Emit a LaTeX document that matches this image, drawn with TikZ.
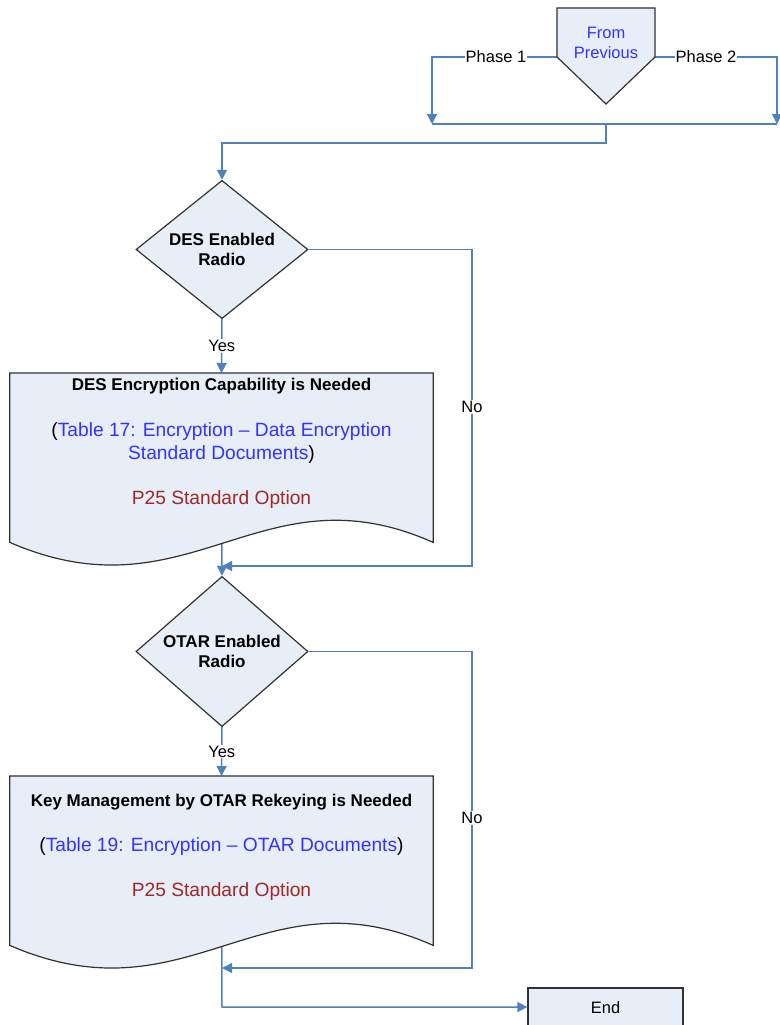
\documentclass[tikz,border=0pt]{standalone}
\usepackage{fontspec}
\setmainfont{Liberation Sans}
\usetikzlibrary{shapes.geometric,arrows.meta,calc}
\pgfdeclarelayer{background}
\pgfsetlayers{background,main}
\definecolor{shapefill}{RGB}{232,238,247}
\definecolor{shapeline}{RGB}{50,50,50}
\definecolor{conn}{RGB}{79,129,189}
\definecolor{linkblue}{RGB}{51,51,255}
\definecolor{optred}{RGB}{160,40,40}
\newcommand\docoutline[1]{%
  \draw[shapebox] (#1.north west) -- (#1.north east) -- (#1.south east)
    .. controls ($(#1.south east)+(-173,-77)$) and ($(#1.south west)+(180,78)$) .. (#1.south west) -- cycle;}
\tikzset{
  shapebox/.style={draw=shapeline,fill=shapefill,line width=1.2pt},
  conline/.style={draw=conn,line width=1.5pt},
  arr/.style={conline,-{Triangle[length=10pt,width=10pt]}},
  decision/.style={shape=diamond,shapebox,inner sep=0pt,minimum width=172pt,minimum height=133pt,align=center,
     font=\fontsize{17}{20}\selectfont\bfseries},
  lbl/.style={fill=white,inner sep=1pt,font=\fontsize{16.5}{19}\selectfont},
  doctitle/.style={font=\fontsize{17}{20}\selectfont\bfseries},
  doctext/.style={font=\fontsize{19.2}{23}\selectfont,align=center},
  docframe/.style={inner sep=0pt,minimum width=423pt,anchor=north},
}
\begin{document}
\begin{tikzpicture}[x=1pt,y=-1pt]
\useasboundingbox (0,0) rectangle (779,1025);
\clip (0,0) rectangle (779,1025);

% From previous (off-page connector)
\coordinate (fpL) at (557,57);
\coordinate (fpR) at (655,57);
\coordinate (fpTL) at (557,8);
\coordinate (fpTR) at (655,8);
\coordinate (fpB) at (606,104);
\draw[shapebox] (fpTL) -- (fpTR) -- (fpR) -- (fpB) -- (fpL) -- cycle;
\node[align=center,text=linkblue,font=\fontsize{16.5}{20}\selectfont] (fp) at (606,43) {From\\Previous};

\coordinate (p1) at (432,124);
\coordinate (p2) at (777,124);
\coordinate (jc) at (606,124);
\coordinate (k1) at (222,143);

% Decisions
\node[decision] (d1) at (222,249.5) {DES Enabled\\Radio};
\node[decision] (d2) at (222,651.5) {OTAR Enabled\\Radio};

% Documents
\node[docframe,minimum height=169pt] (doc1) at (221.5,373) {};
\node[docframe,minimum height=169pt] (doc2) at (221.5,776) {};

% End
\node[shapebox,minimum width=155pt,minimum height=40pt,inner sep=0pt,font=\fontsize{16.5}{19}\selectfont] (end) at (605.5,1008) {End};

% Connectors
\begin{pgfonlayer}{background}
\draw[arr] (fpL) -| (p1);
\draw[arr] (fpR) -| (p2);
\draw[conline] (p1) -- (p2);
\draw[arr] (jc) |- (k1) -- (d1.north);
\draw[arr] (d1.south) -- (doc1.north) node[lbl,pos=0.5] (yes1) {Yes};
\coordinate (n1a) at (472,249.5);
\coordinate (n1b) at (472,566);
\coordinate (m1) at (222,566);
\draw[arr] (d1.east) -- (n1a) -- (n1b) -- (m1);
\node[lbl] (no1) at (472,407) {No};
\draw[arr] (doc1.center) -- (d2.north);
\draw[arr] (d2.south) -- (doc2.north) node[lbl,pos=0.5] (yes2) {Yes};
\coordinate (n2a) at (472,651.5);
\coordinate (n2b) at (472,968);
\coordinate (m2) at (222,968);
\draw[arr] (d2.east) -- (n2a) -- (n2b) -- (m2);
\node[lbl] (no2) at (472,818) {No};
\coordinate (k2) at (222,1007);
\draw[arr] (doc2.center) -- (k2) -- (end.west |- k2);
\end{pgfonlayer}

\node[lbl] (ph1) at (496,57) {Phase 1};
\node[lbl] (ph2) at (706,57) {Phase 2};

\docoutline{doc1}
\docoutline{doc2}

\node[doctitle] (t1) at ($(doc1.north)+(0,13)$) {DES Encryption Capability is Needed};
\node[doctext] (r1) at ($(doc1.north)+(0,70.5)$) {(\textcolor{linkblue}{Table 17: Encryption – Data Encryption}\\\textcolor{linkblue}{Standard Documents})};
\node[doctext,text=optred] (o1) at ($(doc1.north)+(0,127)$) {P25 Standard Option};

\node[doctitle] (t2) at ($(doc2.north)+(0,26)$) {Key Management by OTAR Rekeying is Needed};
\node[doctext] (r2) at ($(doc2.north)+(0,71)$) {(\textcolor{linkblue}{Table 19: Encryption – OTAR Documents})};
\node[doctext,text=optred] (o2) at ($(doc2.north)+(0,116)$) {P25 Standard Option};
\end{tikzpicture}
\end{document}
